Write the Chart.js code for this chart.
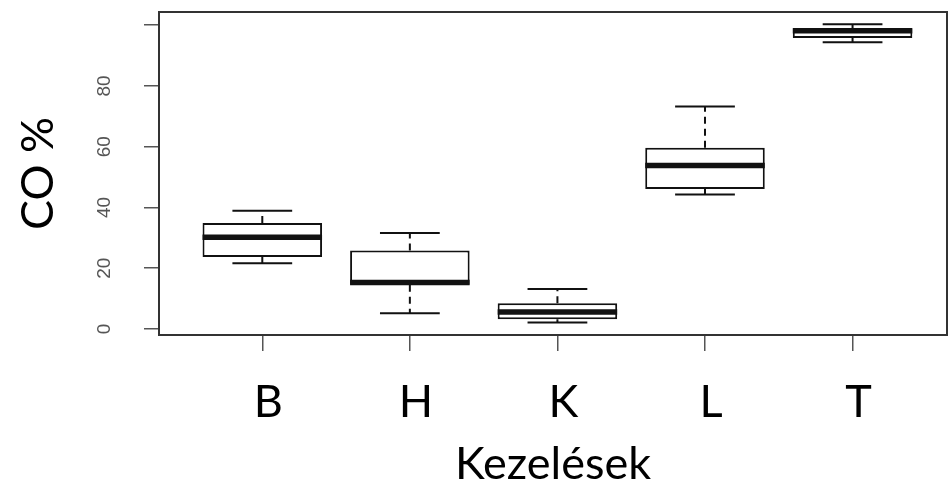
<!DOCTYPE html>
<html>
<head>
<meta charset="utf-8">
<script src="https://cdn.jsdelivr.net/npm/chart.js@4.4.1/dist/chart.umd.min.js"></script>
<style>
html,body{margin:0;padding:0;background:#fff;overflow:hidden}
canvas{display:block}
</style>
</head>
<body>
<canvas id="c" width="948" height="484"></canvas>
<script>
// ---- data ----
const categories   = ['B', 'H', 'K', 'L', 'T'];
const lowerWhisker = [21.6,  5.2, 2.1, 44.3, 94.4];
const q1           = [23.7, 14.6, 3.2, 46.1, 95.8];
const median       = [30.2, 15.3, 5.6, 53.8, 98.2];
const q3           = [34.9, 25.8, 8.5, 59.7, 98.9];
const upperWhisker = [38.9, 31.6, 13.2, 73.2, 100.3];
const yTicks       = [0, 20, 40, 60, 80, 100];
const yTickLabels  = ['0', '20', '40', '60', '80', ''];
const yTitle = 'CO %';
const xTitle = 'Kezelések';

const boxPlugin = {
  id: 'boxWhiskers',
  afterDatasetsDraw(chart) {
    const ctx = chart.ctx;
    const y = chart.scales.y;
    const meta = chart.getDatasetMeta(0);
    ctx.save();
    ctx.strokeStyle = '#111';
    ctx.lineCap = 'butt';
    meta.data.forEach((bar, i) => {
      const cx = bar.x, half = bar.width / 2, staple = bar.width / 4;
      const pq1 = y.getPixelForValue(q1[i]);
      const pq3 = y.getPixelForValue(q3[i]);
      const plo = y.getPixelForValue(lowerWhisker[i]);
      const pup = y.getPixelForValue(upperWhisker[i]);
      const pme = y.getPixelForValue(median[i]);
      ctx.lineWidth = 2;
      ctx.setLineDash([7, 5]);
      ctx.beginPath();
      ctx.moveTo(cx, pq3); ctx.lineTo(cx, pup);
      ctx.moveTo(cx, pq1); ctx.lineTo(cx, plo);
      ctx.stroke();
      ctx.setLineDash([]);
      ctx.beginPath();
      ctx.moveTo(cx - staple, pup); ctx.lineTo(cx + staple, pup);
      ctx.moveTo(cx - staple, plo); ctx.lineTo(cx + staple, plo);
      ctx.stroke();
      ctx.lineWidth = 5.5;
      ctx.beginPath();
      ctx.moveTo(cx - half, pme); ctx.lineTo(cx + half, pme);
      ctx.stroke();
    });
    // plot frame
    const a = chart.chartArea;
    ctx.lineWidth = 2;
    ctx.strokeStyle = '#333';
    ctx.strokeRect(a.left, a.top, a.right - a.left, a.bottom - a.top);
    // rotated y tick labels (R style)
    ctx.fillStyle = '#555';
    ctx.font = '19px "Liberation Sans", Arial, sans-serif';
    ctx.textAlign = 'center';
    ctx.textBaseline = 'alphabetic';
    yTicks.forEach((v, i) => {
      const py = y.getPixelForValue(v);
      ctx.save();
      ctx.translate(110, py);
      ctx.rotate(-Math.PI / 2);
      ctx.fillText(yTickLabels[i], 0, 0);
      ctx.restore();
    });
    ctx.restore();
  }
};

new Chart(document.getElementById('c'), {
  type: 'bar',
  data: {
    datasets: [{
      data: categories.map((c, i) => ({ x: i + 1, y: [q1[i], q3[i]] })),
      backgroundColor: '#fff',
      borderColor: '#111',
      borderWidth: 2,
      borderSkipped: false,
      categoryPercentage: 1,
      barPercentage: 0.81
    }]
  },
  options: {
    responsive: false,
    devicePixelRatio: 1,
    animation: false,
    layout: { padding: { left: 0, top: 12, right: 1, bottom: 0 } },
    plugins: { legend: { display: false }, tooltip: { enabled: false } },
    scales: {
      x: {
        type: 'linear',
        min: 0.3,
        max: 5.64,
        offset: false,
        border: { display: false },
        grid: { offset: false, drawOnChartArea: false, drawTicks: true, tickLength: 16, color: '#555', lineWidth: 1.5 },
        afterBuildTicks: s => { s.ticks = categories.map((c, i) => ({ value: i + 1 })); },
        ticks: {
          callback: (v, i) => categories[i],
          color: '#000',
          font: { family: 'Lato', size: 45 },
          padding: 24,
          labelOffset: 6,
          maxRotation: 0,
          autoSkip: false
        },
        title: {
          display: true,
          text: xTitle,
          color: '#000',
          font: { family: 'Lato', size: 45, lineHeight: 0.85 },
          padding: { top: 0, bottom: 0 }
        },
        afterFit: s => { s.height = 149; }
      },
      y: {
        min: -1.98,
        max: 104.35,
        border: { display: false },
        grid: { drawOnChartArea: false, drawTicks: true, tickLength: 15, color: '#555', lineWidth: 1.5 },
        afterBuildTicks: s => { s.ticks = yTicks.map(v => ({ value: v })); },
        ticks: { display: false },
        title: {
          display: true,
          text: yTitle,
          color: '#000',
          font: { family: 'Lato', size: 45, lineHeight: 0.85 },
          padding: { top: 19, bottom: 0 }
        },
        afterFit: s => { s.width = 159; }
      }
    }
  },
  plugins: [boxPlugin]
});
</script>
</body>
</html>
